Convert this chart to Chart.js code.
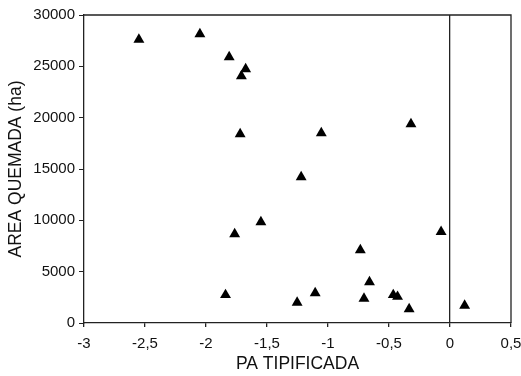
<!DOCTYPE html>
<html>
<head>
<meta charset="utf-8">
<script src="https://cdn.jsdelivr.net/npm/chart.js@4/dist/chart.umd.min.js"></script>
<style>
html,body{margin:0;padding:0;background:#fff;}
#wrap{width:521px;height:376px;position:relative;}
</style>
</head>
<body>
<div id="wrap"><canvas id="c" width="521" height="376"></canvas></div>
<script>
// Data
const paTipificada = [-2.55, -2.05, -1.81, -1.675, -1.71, -1.72, -1.055, -0.32, -1.22, -1.55, -1.765, -1.84, -0.073, -0.735, -0.66, -1.105, -1.253, -0.705, -0.465, -0.43, -0.335, 0.12];
const areaQuemada = [27600, 28150, 25900, 24740, 24060, 18410, 18500, 19380, 14220, 9840, 8670, 2730, 8890, 7110, 3990, 2920, 1980, 2370, 2730, 2560, 1360, 1690];
const xTickValues = [-3, -2.5, -2, -1.5, -1, -0.5, 0, 0.5];
const xTickLabels = ['-3', '-2,5', '-2', '-1,5', '-1', '-0,5', '0', '0,5'];
const yTickLabels = ['0', '5000', '10000', '15000', '20000', '25000', '30000'];
const xTitle = 'PA TIPIFICADA';
const yTitle = 'AREA QUEMADA (ha)';

const points = paTipificada.map((x, i) => ({x: x, y: areaQuemada[i]}));
const FONT = '"Liberation Sans", Arial, sans-serif';
const INK = '#111';

const framePlugin = {
  id: 'frame',
  afterDatasetsDraw(chart) {
    const {ctx, chartArea: a} = chart;
    ctx.save();
    ctx.strokeStyle = '#222';
    ctx.lineWidth = 1.3;
    ctx.beginPath();
    ctx.moveTo(a.left, a.top);
    ctx.lineTo(a.right, a.top);
    ctx.lineTo(a.right, a.bottom);
    ctx.stroke();
    ctx.restore();
  }
};

new Chart(document.getElementById('c'), {
  type: 'scatter',
  data: {
    datasets: [{
      data: points,
      pointStyle: 'triangle',
      pointRadius: 6.3,
      pointHoverRadius: 6.3,
      backgroundColor: '#000',
      borderColor: '#000',
      borderWidth: 0
    }]
  },
  options: {
    responsive: false,
    animation: false,
    events: [],
    layout: {padding: {left: 0, right: 10, top: 15, bottom: 0}},
    plugins: {legend: {display: false}, tooltip: {enabled: false}},
    scales: {
      x: {
        type: 'linear',
        min: -3, max: 0.5,
        afterBuildTicks: s => { s.ticks = xTickValues.map(v => ({value: v})); },
        afterFit: s => { s.height = 53; s.paddingLeft = 0; s.paddingRight = 0; },
        ticks: {
          autoSkip: false, maxRotation: 0,
          padding: 8,
          color: INK,
          font: {family: FONT, size: 15},
          callback: (v, i) => xTickLabels[i]
        },
        grid: {
          drawOnChartArea: true,
          color: c => (c.tick && c.tick.value === 0) ? '#222' : 'rgba(0,0,0,0)',
          lineWidth: 1.3,
          tickColor: '#222',
          tickLength: 4
        },
        border: {display: true, color: '#222', width: 1.3},
        title: {
          display: true, text: xTitle, color: INK,
          font: {family: FONT, size: 17.5},
          padding: {top: 0, bottom: 1}
        }
      },
      y: {
        type: 'linear',
        min: 0, max: 30000,
        afterBuildTicks: s => { s.ticks = yTickLabels.map(t => ({value: Number(t)})); },
        afterFit: s => { s.width = 84; s.paddingTop = 0; s.paddingBottom = 0; },
        ticks: {
          padding: 4,
          color: INK,
          font: {family: FONT, size: 15},
          callback: (v, i) => yTickLabels[i]
        },
        grid: {
          drawOnChartArea: false,
          tickColor: '#222',
          tickLength: 5
        },
        border: {display: true, color: '#222', width: 1.3},
        title: {
          display: true, text: yTitle, color: INK,
          font: {family: FONT, size: 17.5},
          padding: {top: 6, bottom: 0}
        }
      }
    }
  },
  plugins: [framePlugin]
});
</script>
</body>
</html>
